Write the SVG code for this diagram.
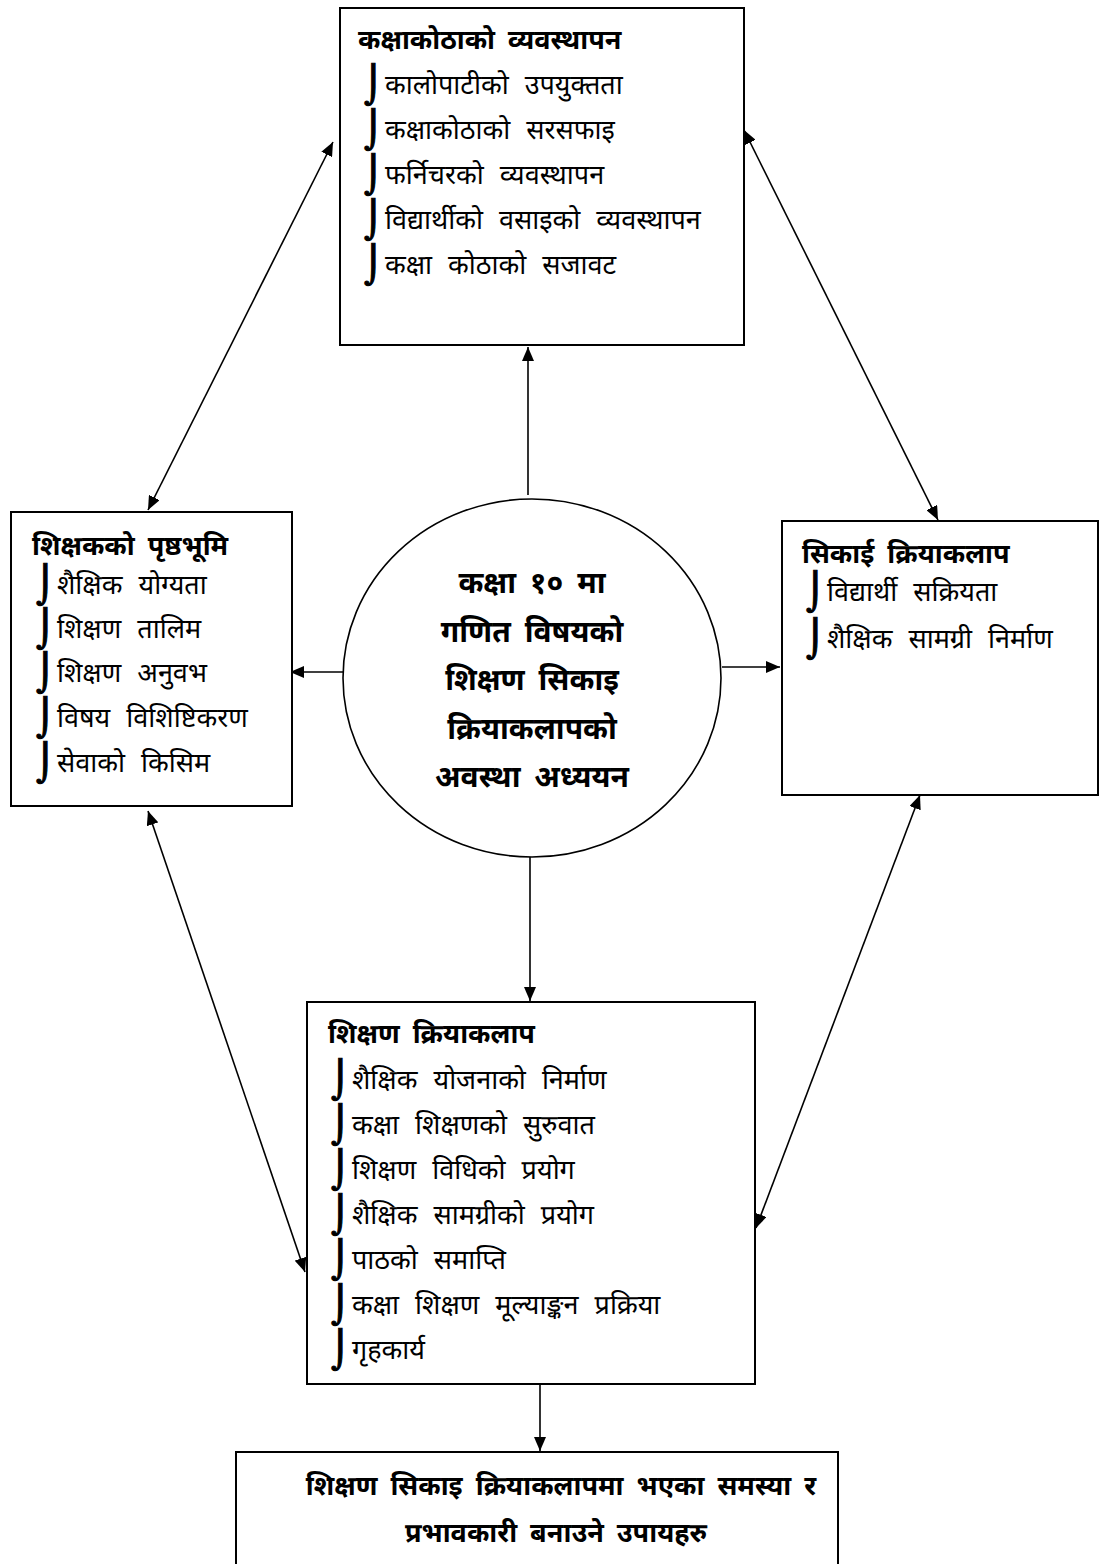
<svg xmlns="http://www.w3.org/2000/svg" width="1104" height="1564" viewBox="0 0 1104 1564">
<defs>
<marker id="ah" viewBox="0 0 14 12" refX="14" refY="6" markerWidth="14" markerHeight="12" markerUnits="userSpaceOnUse" orient="auto-start-reverse">
<path d="M0,0 L14,6 L0,12 Z" fill="#000"/>
</marker>
<style>
.box{fill:#fff;stroke:#000;stroke-width:2}
.hd{font-family:"Noto Sans Devanagari","Noto Sans",sans-serif;font-size:27px;font-weight:bold;word-spacing:6px;fill:#000}
.it{font-family:"Noto Sans Devanagari","Noto Sans",sans-serif;font-size:27px;word-spacing:9px;fill:#000}
.bl{font-family:"DejaVu Serif",serif;font-size:36px;fill:#000;stroke:#000;stroke-width:1}
.ct{font-family:"Noto Sans Devanagari","Noto Sans",sans-serif;font-size:30px;font-weight:bold;word-spacing:6px;fill:#000;text-anchor:middle}
.cn{stroke:#000;stroke-width:1.6;fill:none}
</style>
</defs>
<rect width="1104" height="1564" fill="#fff"/>
<g id="connectors">
<line class="cn" x1="528" y1="495" x2="528" y2="347" marker-end="url(#ah)"/>
<line class="cn" x1="345" y1="672" x2="290" y2="672" marker-end="url(#ah)"/>
<line class="cn" x1="722" y1="667" x2="780" y2="667" marker-end="url(#ah)"/>
<line class="cn" x1="530" y1="857" x2="530" y2="1001" marker-end="url(#ah)"/>
<line class="cn" x1="540" y1="1384" x2="540" y2="1451" marker-end="url(#ah)"/>
<line class="cn" x1="333" y1="142" x2="148" y2="510" marker-start="url(#ah)" marker-end="url(#ah)"/>
<line class="cn" x1="744" y1="130" x2="938" y2="520" marker-start="url(#ah)" marker-end="url(#ah)"/>
<line class="cn" x1="148" y1="811" x2="305" y2="1272" marker-start="url(#ah)" marker-end="url(#ah)"/>
<line class="cn" x1="920" y1="795" x2="756" y2="1228" marker-start="url(#ah)" marker-end="url(#ah)"/>
</g>
<g id="node-classroom">
<rect class="box" x="340" y="8" width="404" height="337"/>
<text class="hd" x="358" y="49">कक्षाकोठाको व्यवस्थापन</text>
<text class="bl" x="364" y="97">⌡</text><text class="it" x="385" y="94">कालोपाटीको उपयुक्तता</text>
<text class="bl" x="364" y="142">⌡</text><text class="it" x="385" y="139">कक्षाकोठाको सरसफाइ</text>
<text class="bl" x="364" y="187">⌡</text><text class="it" x="385" y="184">फर्निचरको व्यवस्थापन</text>
<text class="bl" x="364" y="232">⌡</text><text class="it" x="385" y="229">विद्यार्थीको वसाइको व्यवस्थापन</text>
<text class="bl" x="364" y="277">⌡</text><text class="it" x="385" y="274">कक्षा कोठाको सजावट</text>
</g>
<g id="node-teacher">
<rect class="box" x="11" y="512" width="281" height="294"/>
<text class="hd" x="32" y="555">शिक्षकको पृष्ठभूमि</text>
<text class="bl" x="36" y="597">⌡</text><text class="it" x="57" y="594">शैक्षिक योग्यता</text>
<text class="bl" x="36" y="641">⌡</text><text class="it" x="57" y="638">शिक्षण तालिम</text>
<text class="bl" x="36" y="685">⌡</text><text class="it" x="57" y="682">शिक्षण अनुवभ</text>
<text class="bl" x="36" y="730">⌡</text><text class="it" x="57" y="727">विषय विशिष्टिकरण</text>
<text class="bl" x="36" y="775">⌡</text><text class="it" x="57" y="772">सेवाको किसिम</text>
</g>
<g id="node-learning">
<rect class="box" x="782" y="521" width="316" height="274"/>
<text class="hd" x="802" y="563">सिकाई क्रियाकलाप</text>
<text class="bl" x="806" y="604">⌡</text><text class="it" x="827" y="601">विद्यार्थी सक्रियता</text>
<text class="bl" x="806" y="651">⌡</text><text class="it" x="827" y="648">शैक्षिक सामग्री निर्माण</text>
</g>
<g id="node-center">
<ellipse cx="532" cy="678" rx="189" ry="179" fill="#fff" stroke="#000" stroke-width="1.6"/>
<text class="ct" x="532" y="593">कक्षा १० मा</text>
<text class="ct" x="532" y="642">गणित विषयको</text>
<text class="ct" x="532" y="690">शिक्षण सिकाइ</text>
<text class="ct" x="532" y="739">क्रियाकलापको</text>
<text class="ct" x="532" y="787">अवस्था अध्ययन</text>
</g>
<g id="node-teaching">
<rect class="box" x="307" y="1002" width="448" height="382"/>
<text class="hd" x="328" y="1043">शिक्षण क्रियाकलाप</text>
<text class="bl" x="331" y="1092">⌡</text><text class="it" x="352" y="1089">शैक्षिक योजनाको निर्माण</text>
<text class="bl" x="331" y="1137">⌡</text><text class="it" x="352" y="1134">कक्षा शिक्षणको सुरुवात</text>
<text class="bl" x="331" y="1182">⌡</text><text class="it" x="352" y="1179">शिक्षण विधिको प्रयोग</text>
<text class="bl" x="331" y="1227">⌡</text><text class="it" x="352" y="1224">शैक्षिक सामग्रीको प्रयोग</text>
<text class="bl" x="331" y="1272">⌡</text><text class="it" x="352" y="1269">पाठको समाप्ति</text>
<text class="bl" x="331" y="1317">⌡</text><text class="it" x="352" y="1314">कक्षा शिक्षण मूल्याङ्कन प्रक्रिया</text>
<text class="bl" x="331" y="1362">⌡</text><text class="it" x="352" y="1359">गृहकार्य</text>
</g>
<g id="node-result">
<rect class="box" x="236" y="1452" width="602" height="130"/>
<text class="hd" x="561" y="1495" text-anchor="middle">शिक्षण सिकाइ क्रियाकलापमा भएका समस्या र</text>
<text class="hd" x="556" y="1542" text-anchor="middle">प्रभावकारी बनाउने उपायहरु</text>
</g>
</svg>
